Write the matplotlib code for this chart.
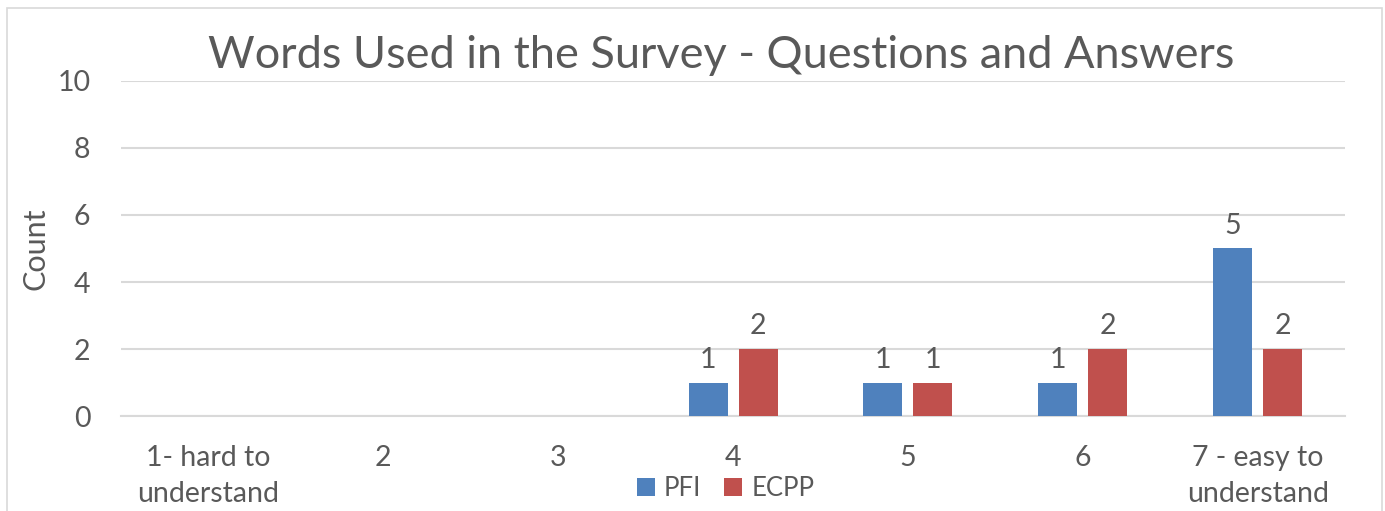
import matplotlib
matplotlib.use("Agg")
import matplotlib.pyplot as plt
import numpy as np
from matplotlib.patches import Rectangle

# =========================
# DATA
# =========================
categories = ["1- hard to\nunderstand", "2", "3", "4", "5", "6", "7 - easy to\nunderstand"]
pfi = [0, 0, 0, 1, 1, 1, 5]
ecpp = [0, 0, 0, 2, 1, 2, 2]
y_ticks = [0, 2, 4, 6, 8, 10]

# =========================
# STYLE
# =========================
plt.rcParams["font.family"] = ["Lato", "DejaVu Sans"]
TEXT = "#595959"
GRID = "#D9D9D9"
BLUE = "#4F81BD"
RED = "#C0504D"

fig = plt.figure(figsize=(13.85, 5.11), dpi=100)
ax = fig.add_axes([0.0874, 0.1859, 0.8838, 0.6556])

x = np.arange(len(categories))
w = 0.223
off = 0.143

b1 = ax.bar(x - off, pfi, w, color=BLUE, label="PFI", zorder=3)
b2 = ax.bar(x + off, ecpp, w, color=RED, label="ECPP", zorder=3)

# value labels only where there is a bar
for bars, vals in ((b1, pfi), (b2, ecpp)):
    for rect, v in zip(bars, vals):
        if v > 0:
            ax.annotate(str(v), (rect.get_x() + rect.get_width() / 2, v),
                        xytext=(0, 7), textcoords="offset points",
                        ha="center", va="bottom", fontsize=20.5, color=TEXT)

ax.set_xlim(-0.5, len(categories) - 0.5)
ax.set_ylim(0, 10)
ax.set_yticks(y_ticks)
ax.set_xticks(x)
ax.set_xticklabels(categories, fontsize=20.5, color=TEXT, linespacing=1.45)
ax.tick_params(axis="y", labelsize=20.5, labelcolor=TEXT, length=0, pad=22)
ax.tick_params(axis="x", length=0, pad=21)
ax.yaxis.grid(True, color=GRID, linewidth=1.5, zorder=0)
for s in ["top", "right", "left"]:
    ax.spines[s].set_visible(False)
ax.spines["bottom"].set_color(GRID)
ax.spines["bottom"].set_linewidth(1.5)

ax.set_ylabel("Count", fontsize=22, color=TEXT, labelpad=6)
fig.text(0.521, 0.892, "Words Used in the Survey - Questions and Answers",
         ha="center", va="center", fontsize=32.5, color=TEXT)

leg = fig.legend(handles=[b1, b2], loc="center", bbox_to_anchor=(0.524, 0.045),
                 ncol=2, frameon=False, fontsize=18.5, handlelength=0.7,
                 handleheight=0.7, handletextpad=0.35, columnspacing=0.9)
for t in leg.get_texts():
    t.set_color(TEXT)

# chart border
fig.patches.append(Rectangle((7 / 1385, -0.1), 1375 / 1385, 1 - 8 / 511 + 0.1,
                             transform=fig.transFigure, fill=False,
                             edgecolor=GRID, linewidth=1.2))

fig.savefig("out.png", dpi=100)
